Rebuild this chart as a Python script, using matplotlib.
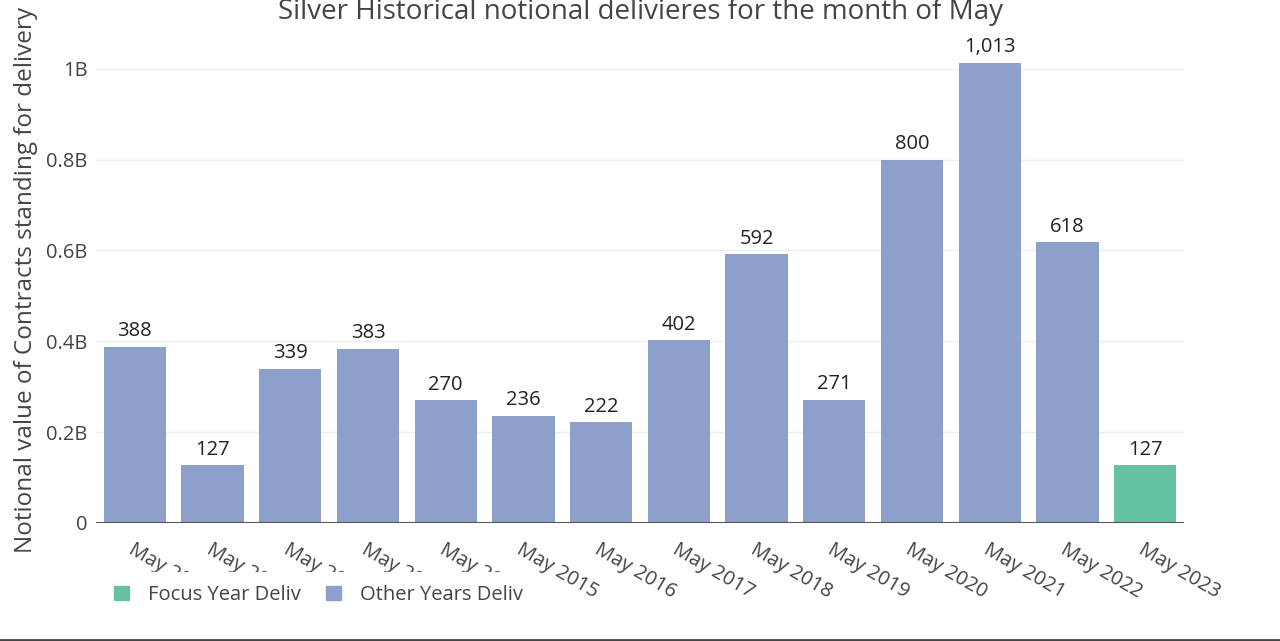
import matplotlib.pyplot as plt
from matplotlib.patches import Patch
from matplotlib.lines import Line2D
from matplotlib.transforms import Bbox

plt.rcParams['font.family'] = ['Open Sans', 'DejaVu Sans']

years = ['May 2010', 'May 2011', 'May 2012', 'May 2013', 'May 2014', 'May 2015', 'May 2016',
         'May 2017', 'May 2018', 'May 2019', 'May 2020', 'May 2021', 'May 2022', 'May 2023']
# notional value in millions
values = [388, 127, 339, 383, 270, 236, 222, 402, 592, 271, 800, 1013, 618, 127]
focus_year = 'May 2023'

green = '#66c2a5'
blue = '#8da0cb'
txt = '#444444'

W, H = 1280, 641
fig = plt.figure(figsize=(W / 100, H / 100), dpi=100)
ax = fig.add_axes([96 / W, (H - 523) / H, (1184 - 96) / W, (523 - 37) / H])

x = list(range(len(years)))
colors = [green if y == focus_year else blue for y in years]
bars = ax.bar(x, [v / 1000 for v in values], width=0.8, color=colors, zorder=2)
ax.bar_label(bars, labels=[f'{v:,}' for v in values], padding=4, fontsize=14.5, color='#222222')

ax.set_xlim(-0.5, len(years) - 0.5)
ax.set_ylim(0, 1.07)
ax.set_yticks([0, 0.2, 0.4, 0.6, 0.8, 1.0])
ax.set_yticklabels(['0', '0.2B', '0.4B', '0.6B', '0.8B', '1B'])
ax.grid(axis='y', color='#eeeeee', lw=1, zorder=0)
ax.axhline(0, color='#555555', lw=1.5, zorder=3)
for s in ax.spines.values():
    s.set_visible(False)
ax.tick_params(axis='both', length=0, labelsize=14.5, labelcolor=txt)
ax.tick_params(axis='y', pad=6)

ax.set_xticks(x)
ax.set_xticklabels(years, rotation=-30, ha='left', va='top', rotation_mode='anchor')
ax.tick_params(axis='x', pad=12)
# first labels are cut off in the original
clip = Bbox.from_extents(0, H - 572, W, H)
for lab in ax.get_xticklabels()[:5]:
    lab.set_clip_box(clip)
    lab.set_clip_on(True)

ax.set_ylabel('Notional value of Contracts standing for delivery', fontsize=17.5, color=txt, labelpad=6)

fig.text(0.5, 1 - 12 / H, 'Silver Historical notional delivieres for the month of May',
         ha='center', va='center', fontsize=20, color=txt)

handles = [Patch(color=green, label='Focus Year Deliv'), Patch(color=blue, label='Other Years Deliv')]
fig.legend(handles=handles, loc='center left', bbox_to_anchor=(110 / W, 1 - 595 / H), ncol=2,
           frameon=False, fontsize=14.5, labelcolor=txt, handlelength=0.75, handleheight=0.75,
           columnspacing=1.25, handletextpad=0.95, borderpad=0.2, borderaxespad=0)

fig.add_artist(Line2D([0, 1], [1.5 / H, 1.5 / H], color='#444444', lw=2))

fig.savefig('out.png', dpi=100)
